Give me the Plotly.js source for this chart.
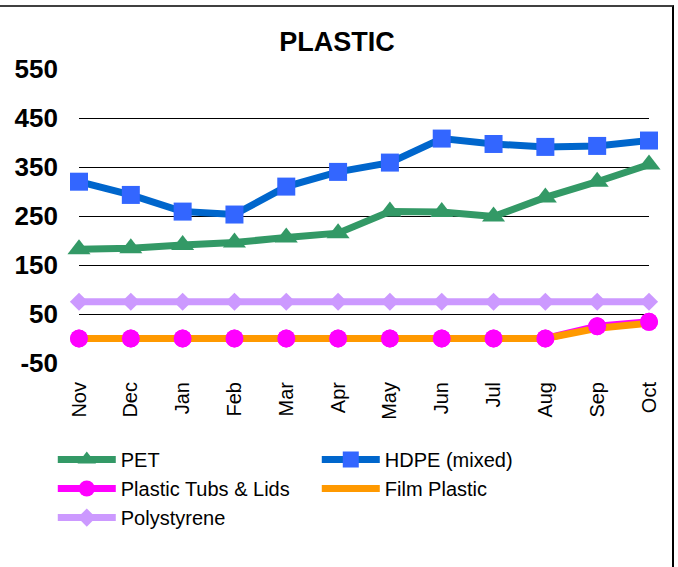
<!DOCTYPE html>
<html><head><meta charset="utf-8">
<script src="https://cdn.plot.ly/plotly-3.0.1.min.js"></script>
<style>
html,body{margin:0;padding:0;background:#fff;}
#chart{width:678px;height:567px;}
#frame{position:absolute;left:-4px;top:5px;width:676px;height:580px;border-top:2px solid #404040;border-right:2px solid #000;pointer-events:none;}
</style>
</head><body>
<div id="chart"></div><div id="frame"></div>
<script>
const months = ["Nov","Dec","Jan","Feb","Mar","Apr","May","Jun","Jul","Aug","Sep","Oct"];
const pet = [182,184,191,196,206,215,259,258,249,288,320,355];
const hdpe = [320,293,259,253,310,340,359,408,397,391,393,404];
const tubs = [0,0,0,0,0,0,0,0,0,0,25,34];
const film = [0,0,0,0,0,0,0,0,0,0,21,31];
const polystyrene = [75,75,75,75,75,75,75,75,75,75,75,75];
const yTicks = [-50,50,150,250,350,450,550];

const FONT = '"Liberation Sans", Arial, sans-serif';
const LW = 7;

const traces = [
  {name:'PET', x:months, y:pet, mode:'lines+markers', legendrank:1,
   line:{color:'#339966', width:LW}, marker:{symbol:'triangle-up', size:20, color:'#339966'}, cliponaxis:false},
  {name:'HDPE (mixed)', x:months, y:hdpe, mode:'lines+markers', legendrank:2,
   line:{color:'#0066CC', width:LW}, marker:{symbol:'square', size:18, color:'#3366FF'}, cliponaxis:false},
  {name:'Plastic Tubs & Lids', x:months, y:tubs, mode:'lines+markers', legendrank:3,
   line:{color:'#FF00FF', width:LW}, marker:{symbol:'circle', size:18, color:'#FF00FF'}, cliponaxis:false},
  {name:'Film Plastic', x:months, y:film, mode:'lines', legendrank:4,
   line:{color:'#FF9900', width:LW}, cliponaxis:false},
  {name:'Plastic Tubs & Lids', x:months, y:tubs, mode:'markers', showlegend:false,
   marker:{symbol:'circle', size:18, color:'#FF00FF'}, cliponaxis:false, hoverinfo:'skip'},
  {name:'Polystyrene', x:months, y:polystyrene, mode:'lines+markers', legendrank:5,
   line:{color:'#CC99FF', width:LW}, marker:{symbol:'diamond', size:14, color:'#CC99FF'}, cliponaxis:false}
];

const layout = {
  width:678, height:567,
  margin:{l:79, r:29, t:69, b:204},
  paper_bgcolor:'#fff', plot_bgcolor:'#fff',
  font:{family:FONT, color:'#000'},
  title:{text:'<b>PLASTIC</b>', font:{size:27, family:FONT, color:'#000'}, x:0.497, xanchor:'center', y:0.927, yanchor:'middle'},
  xaxis:{type:'category', range:[0,11], showgrid:false, zeroline:false, showline:false,
    tickangle:-90, tickfont:{size:20, family:FONT}, ticks:'', ticklabelstandoff:14, fixedrange:true},
  yaxis:{range:[-50,550], tickvals:yTicks, ticktext:yTicks.map(String), showgrid:true, gridcolor:'#000', gridwidth:1,
    zeroline:false, showline:false, ticks:'', ticklabelstandoff:20,
    tickfont:{size:26, family:FONT, weight:'bold'}, fixedrange:true},
  showlegend:true,
  legend:{orientation:'h', x:-0.046, xanchor:'left', y:-0.262, yanchor:'top',
    font:{size:20, family:FONT}, itemwidth:58, entrywidth:191, bgcolor:'rgba(0,0,0,0)', traceorder:'normal'}
};

Plotly.newPlot('chart', traces, layout, {displayModeBar:false, staticPlot:true});
</script>
</body></html>
